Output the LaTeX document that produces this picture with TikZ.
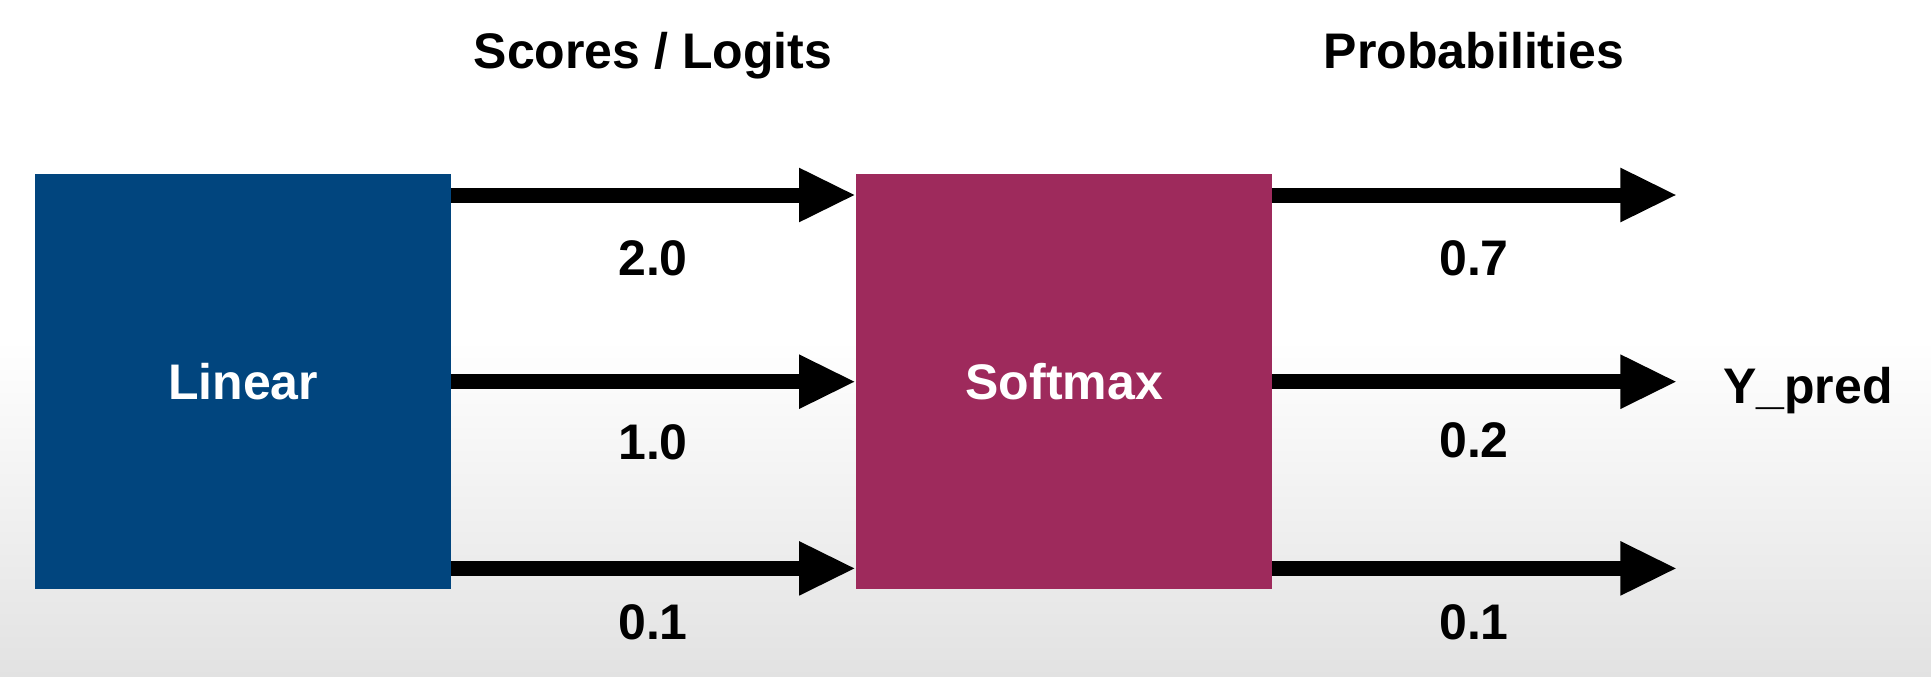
\documentclass[tikz,border=0pt]{standalone}
\usepackage{fontspec}
\setmainfont{Liberation Sans}
\usetikzlibrary{arrows.meta}
\definecolor{linblue}{HTML}{01457E}
\definecolor{softred}{HTML}{9E2A5C}
\definecolor{bgfloor}{HTML}{E2E2E2}
\begin{document}
\begin{tikzpicture}[x=1pt,y=-1pt,
  block/.style={minimum width=416pt,minimum height=415pt,inner sep=0pt,
    text=white,font=\fontsize{50}{58}\selectfont\bfseries},
  flow/.style={line width=15pt,-{Triangle[length=57pt,width=50pt]}},
  lbl/.style={font=\fontsize{50}{58}\selectfont\bfseries,inner sep=0pt}]
  % page and soft grey floor
  \useasboundingbox (0,0) rectangle (1931,677);
  \fill[white] (0,0) rectangle (1931,677);
  \shade[top color=white,bottom color=bgfloor] (0,340) rectangle (1931,677);

  % blocks
  \node[block,fill=linblue,anchor=north west] (lin) at (35,174) {Linear};
  \node[block,fill=softred,anchor=north west] (soft) at (856,174) {Softmax};

  % free ends of the output arrows
  \coordinate (o1) at ([xshift=405pt,yshift=-21pt]soft.north east);
  \coordinate (o2) at ([xshift=405pt]soft.east);
  \coordinate (o3) at ([xshift=405pt,yshift=21pt]soft.south east);

  % logits into softmax
  \draw[flow] ([yshift=-21pt]lin.north east) -- ([yshift=-21pt]soft.north west);
  \draw[flow] (lin.east) -- (soft.west);
  \draw[flow] ([yshift=21pt]lin.south east) -- ([yshift=21pt]soft.south west);

  % probabilities out of softmax
  \draw[flow] ([yshift=-21pt]soft.north east) -- (o1);
  \draw[flow] (soft.east) -- (o2);
  \draw[flow] ([yshift=21pt]soft.south east) -- (o3);

  % headings
  \node[lbl,anchor=base] (hs) at (653,69) {Scores / Logits};
  \node[lbl,anchor=base] (hp) at (1474,69) {Probabilities};

  % values
  \node[lbl] (v1) at (653,258) {2.0};
  \node[lbl] (v2) at (653,442) {1.0};
  \node[lbl] (v3) at (653,622) {0.1};
  \node[lbl] (p1) at (1474,258) {0.7};
  \node[lbl] (p2) at (1474,440) {0.2};
  \node[lbl] (p3) at (1474,622) {0.1};

  % output name
  \node[lbl,anchor=base west] (yp) at (1723,403) {Y\_pred};
\end{tikzpicture}
\end{document}
